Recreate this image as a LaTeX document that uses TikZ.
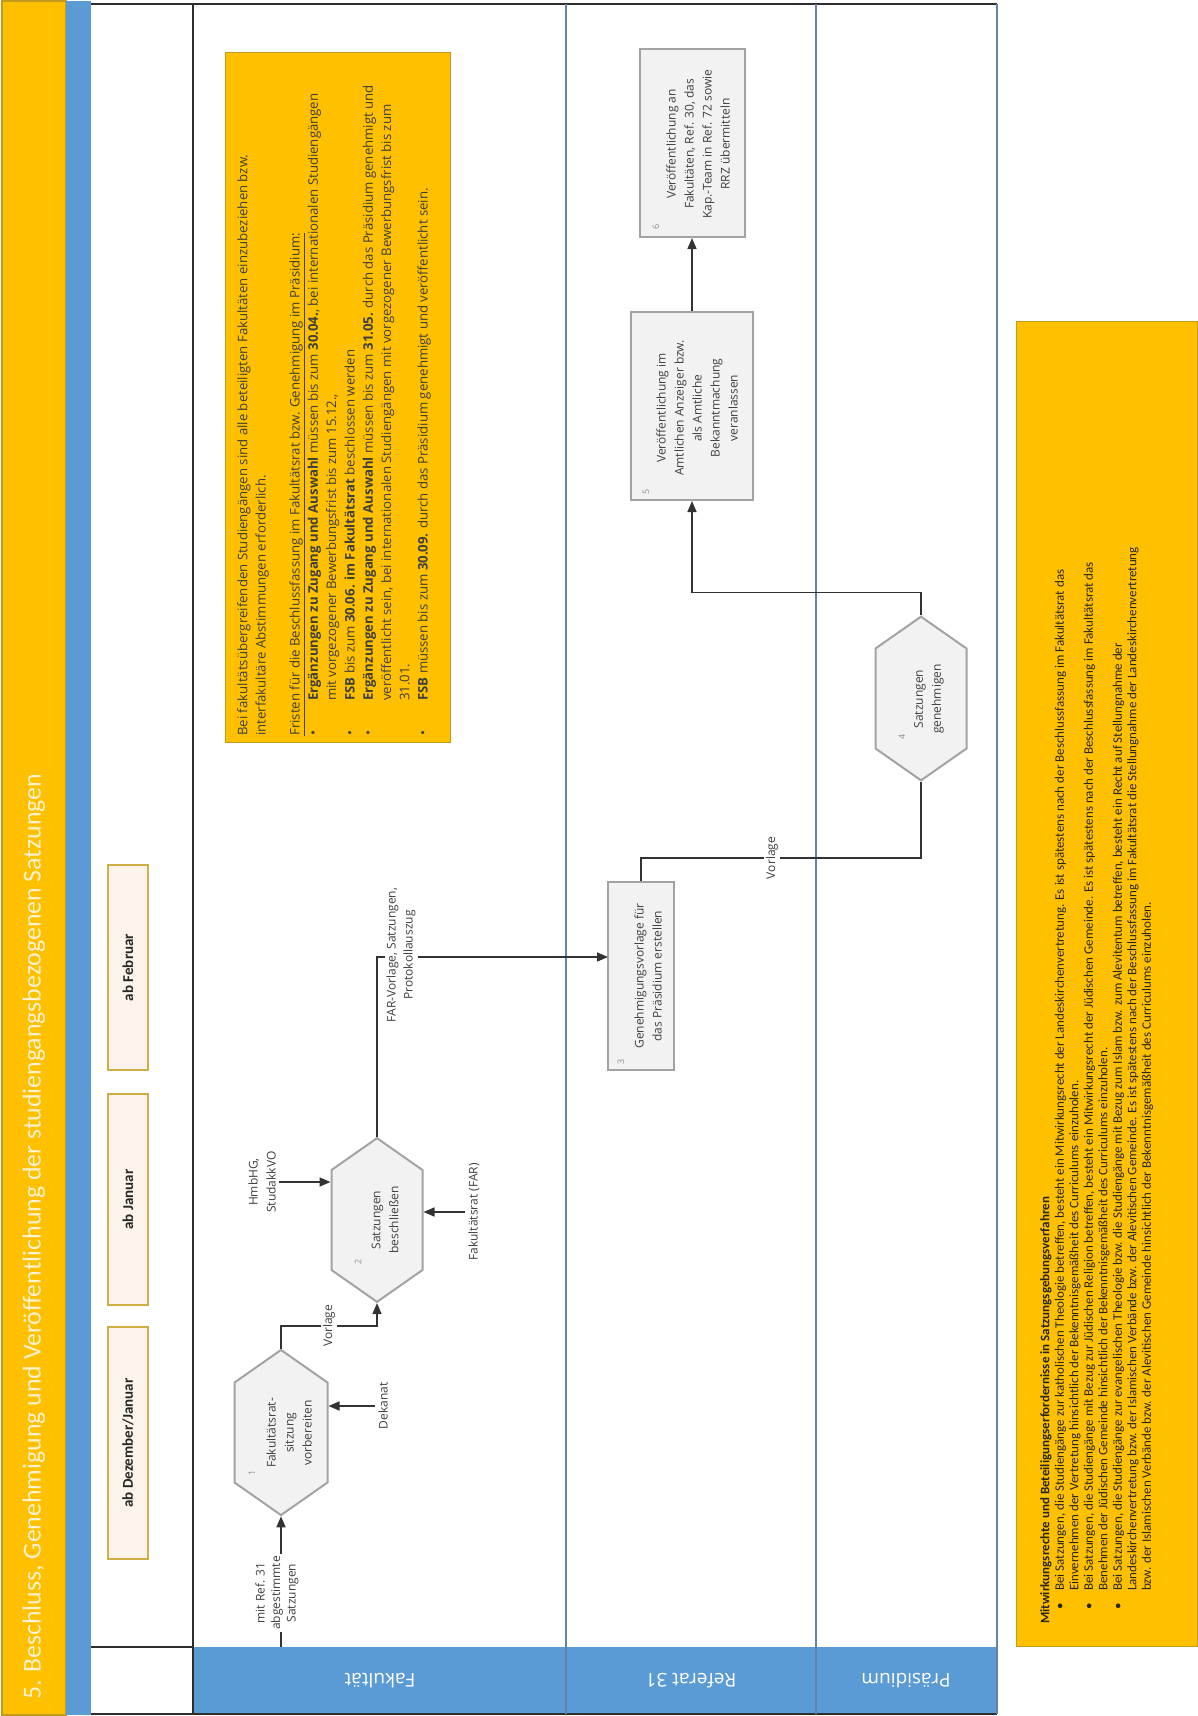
\documentclass[tikz,border=0pt]{standalone}
\usepackage{fontspec}
\setmainfont{Open Sans}
\newfontfamily\carlito{Carlito}
\usetikzlibrary{arrows.meta,shapes.symbols}
\definecolor{gold}{HTML}{FFC000}
\definecolor{golddark}{HTML}{C29A1E}
\definecolor{laneblue}{HTML}{5B9BD5}
\definecolor{laneline}{HTML}{6384A6}
\definecolor{shapefill}{HTML}{F2F2F2}
\definecolor{shapeline}{HTML}{A3A3A3}
\definecolor{txtgray}{HTML}{3F3F3F}
\definecolor{numgray}{HTML}{8F8F8F}
\definecolor{cream}{HTML}{FCF4EA}
\definecolor{boxgold}{HTML}{CFAE45}
\definecolor{titletxt}{HTML}{FFF3D2}
\definecolor{darkline}{HTML}{2E2E2E}
\definecolor{conn}{HTML}{333333}
\tikzset{
  hexa/.style={shape=signal, signal to=north and south, signal pointer angle=110,
    draw=shapeline, fill=shapefill, line width=2pt, inner sep=0pt, minimum height=100pt},
  procbox/.style={draw=shapeline, fill=shapefill, line width=2pt, inner sep=0pt},
  ptext/.style={rotate=90, align=center, text=txtgray, font=\fontsize{12}{18}\selectfont, inner sep=0pt},
  numtext/.style={rotate=90, text=numgray, font=\fontsize{9}{10}\selectfont, inner sep=0pt},
  lbl/.style={rotate=90, align=center, text=txtgray, fill=white, font=\fontsize{12}{17}\selectfont, inner sep=2pt},
  flow/.style={draw=conn, line width=1.6pt},
  arr/.style={flow, -{Triangle[length=11pt,width=9pt]}},
  tbox/.style={rotate=90, draw=boxgold, fill=cream, line width=1.6pt,
    font=\carlito\bfseries\fontsize{15}{17}\selectfont, text=black!85, minimum height=40pt, inner sep=0pt},
  lanelbl/.style={rotate=180, text=white, font=\fontsize{19}{22}\selectfont, inner sep=0pt},
  note/.style={draw=golddark, fill=gold, line width=1pt, inner sep=0pt},
}
\begin{document}
\begin{tikzpicture}[x=1pt,y=-1pt]
\useasboundingbox (0,0) rectangle (1197,1716);
\fill[white] (0,0) rectangle (1197,1716);
% title strip
\filldraw[fill=gold, draw=golddark, line width=1.5pt] (2,1) rectangle (66,1715);
\fill[laneblue] (66,1) rectangle (91,1715);
\node[rotate=90, anchor=west, inner sep=0pt, text=titletxt, font=\carlito\fontsize{25.8}{30}\selectfont] (title) at (34,1700)
  {5. Beschluss, Genehmigung und Veröffentlichung der studiengangsbezogenen Satzungen};
% lanes
\fill[laneblue] (193,1647) rectangle (997,1714);
\draw[darkline, line width=1.5pt] (91,4) -- (997,4);
\draw[darkline, line width=1.5pt] (193,4) -- (193,1714);
\draw[darkline, line width=1.5pt] (91,1647) -- (193,1647) (91,1714) -- (997,1714);
\draw[laneline, line width=1.5pt] (566,4) -- (566,1714) (816,4) -- (816,1714) (997,4) -- (997,1714);
\node[lanelbl] (l1) at (380,1681) {Fakultät};
\node[lanelbl] (l2) at (691,1681) {Referat 31};
\node[lanelbl] (l3) at (906,1681) {Präsidium};
% time boxes
\node[tbox, minimum width=232pt] (t1) at (128,1443) {ab Dezember/Januar};
\node[tbox, minimum width=211pt] (t2) at (128,1199.5) {ab Januar};
\node[tbox, minimum width=205pt] (t3) at (128,967.5) {ab Februar};
% note 1
\node[note, minimum width=225pt, minimum height=690pt] (note1) at (337.5,397) {};
\node[rotate=90, anchor=north west, align=left, inner sep=0pt, text=txtgray,
  font=\fontsize{13.2}{18.3}\selectfont] (note1t) at (237,736) {%
Bei fakultätsübergreifenden Studiengängen sind alle beteiligten Fakultäten einzubeziehen bzw.\\
interfakultäre Abstimmungen erforderlich.\\[15.7pt]
\underline{Fristen für die Beschlussfassung im Fakultätsrat bzw. Genehmigung im Präsidium:}\\
\makebox[35pt][l]{•}\textbf{Ergänzungen zu Zugang und Auswahl} müssen bis zum \textbf{30.04.}, bei internationalen Studiengängen\\
\hspace*{35pt}mit vorgezogener Bewerbungsfrist bis zum 15.12.,\\
\makebox[35pt][l]{•}\textbf{FSB} bis zum \textbf{30.06. im Fakultätsrat} beschlossen werden\\
\makebox[35pt][l]{•}\textbf{Ergänzungen zu Zugang und Auswahl} müssen bis zum \textbf{31.05.} durch das Präsidium genehmigt und\\
\hspace*{35pt}veröffentlicht sein, bei internationalen Studiengängen mit vorgezogener Bewerbungsfrist bis zum\\
\hspace*{35pt}31.01.\\
\makebox[35pt][l]{•}\textbf{FSB} müssen bis zum \textbf{30.09.} durch das Präsidium genehmigt und veröffentlicht sein.};
% note 2
\node[note, minimum width=181pt, minimum height=1325pt] (note2) at (1106.5,983.5) {};
\node[rotate=90, anchor=north west, align=left, inner sep=0pt, text=black!85,
  font=\carlito\fontsize{13}{14.5}\selectfont] (note2t) at (1040,1624) {%
\textbf{Mitwirkungsrechte und Beteiligungserfordernisse in Satzungsgebungsverfahren}\\
\hspace*{14pt}\makebox[19pt][l]{•}Bei Satzungen, die Studiengänge zur katholischen Theologie betreffen, besteht ein Mitwirkungsrecht der Landeskirchenvertretung. Es ist spätestens nach der Beschlussfassung im Fakultätsrat das\\
\hspace*{33pt}Einvernehmen der Vertretung hinsichtlich der Bekenntnisgemäßheit des Curriculums einzuholen.\\
\hspace*{14pt}\makebox[19pt][l]{•}Bei Satzungen, die Studiengänge mit Bezug zur Jüdischen Religion betreffen, besteht ein Mitwirkungsrecht der Jüdischen Gemeinde. Es ist spätestens nach der Beschlussfassung im Fakultätsrat das\\
\hspace*{33pt}Benehmen der Jüdischen Gemeinde hinsichtlich der Bekenntnisgemäßheit des Curriculums einzuholen.\\
\hspace*{14pt}\makebox[19pt][l]{•}Bei Satzungen, die Studiengänge zur evangelischen Theologie bzw. die Studiengänge mit Bezug zum Islam bzw. zum Alevitentum betreffen, besteht ein Recht auf Stellungnahme der\\
\hspace*{33pt}Landeskirchenvertretung bzw. der Islamischen Verbände bzw. der Alevitischen Gemeinde. Es ist spätestens nach der Beschlussfassung im Fakultätsrat die Stellungnahme der Landeskirchenvertretung\\
\hspace*{33pt}bzw. der Islamischen Verbände bzw. der Alevitischen Gemeinde hinsichtlich der Bekenntnisgemäßheit des Curriculums einzuholen.};
% process shapes
\node[hexa, minimum width=93pt] (h1) at (281,1432.5) {};
\node[ptext] (h1t) at (289,1433) {Fakultätsrat-\\sitzung\\vorbereiten};
\node[numtext] (h1n) at (252,1473) {1};
\node[hexa, minimum width=91pt] (h2) at (377,1220) {};
\node[ptext] (h2t) at (385,1220) {Satzungen\\beschließen};
\node[numtext] (h2n) at (358,1262) {2};
\node[procbox, minimum width=66pt, minimum height=188pt] (b3) at (641,976) {};
\node[ptext] (b3t) at (648,976) {Genehmigungsvorlage für\\das Präsidium erstellen};
\node[numtext] (b3n) at (621,1062) {3};
\node[hexa, minimum width=91pt] (h4) at (921,698.5) {};
\node[ptext] (h4t) at (929,699) {Satzungen\\genehmigen};
\node[numtext] (h4n) at (902,737) {4};
\node[procbox, minimum width=122pt, minimum height=188pt] (b5) at (692,406) {};
\node[ptext] (b5t) at (697,408) {Veröffentlichung im\\Amtlichen Anzeiger bzw.\\als Amtliche\\Bekanntmachung\\veranlassen};
\node[numtext] (b5n) at (646,492) {5};
\node[procbox, minimum width=105pt, minimum height=188pt] (b6) at (692,143) {};
\node[ptext] (b6t) at (698,144) {Veröffentlichung an\\Fakultäten, Ref. 30, das\\Kap.-Team in Ref. 72 sowie\\RRZ übermitteln};
\node[numtext] (b6n) at (656,227) {6};
% inputs
\node[ptext, inner sep=3pt] (dek) at (383,1406) {Dekanat};
\node[ptext, inner sep=3pt] (hmb) at (262,1182) {HmbHG,\\StudakkVO};
\node[ptext, inner sep=3pt] (far) at (474,1212) {Fakultätsrat (FAR)};
\coordinate (in1) at (281,1647);
\coordinate (b3in) at (608,957);
% connectors
\draw[arr] (in1) -- (h1.south);
\draw[arr] (dek.north) -- (dek.north -| h1.east);
\draw[arr] (hmb.south) -- (hmb.south -| h2.west);
\draw[arr] (far.north) -- (far.north -| h2.east);
\draw[arr] (h1.north) -- ++(0,-23) -| node[lbl, pos=0.25] (vl1) {Vorlage} (h2.south);
\draw[arr] (h2.north) |- (b3in);
\draw[flow] (b3.north) -- ++(0,-23) -| node[lbl, pos=0.234] (vl2) {Vorlage} (h4.south);
\draw[arr] (h4.north) -- ++(0,-23) -| (b5.south);
\draw[arr] (b5.north) -- (b6.south);
% labels on lines
\node[lbl, font=\fontsize{12}{15.5}\selectfont] (inlbl) at (277,1593) {mit Ref. 31\\abgestimmte\\Satzungen};
\node[lbl] (farlbl) at (401,955) {FAR-Vorlage, Satzungen,\\Protokollauszug};
\end{tikzpicture}
\end{document}
